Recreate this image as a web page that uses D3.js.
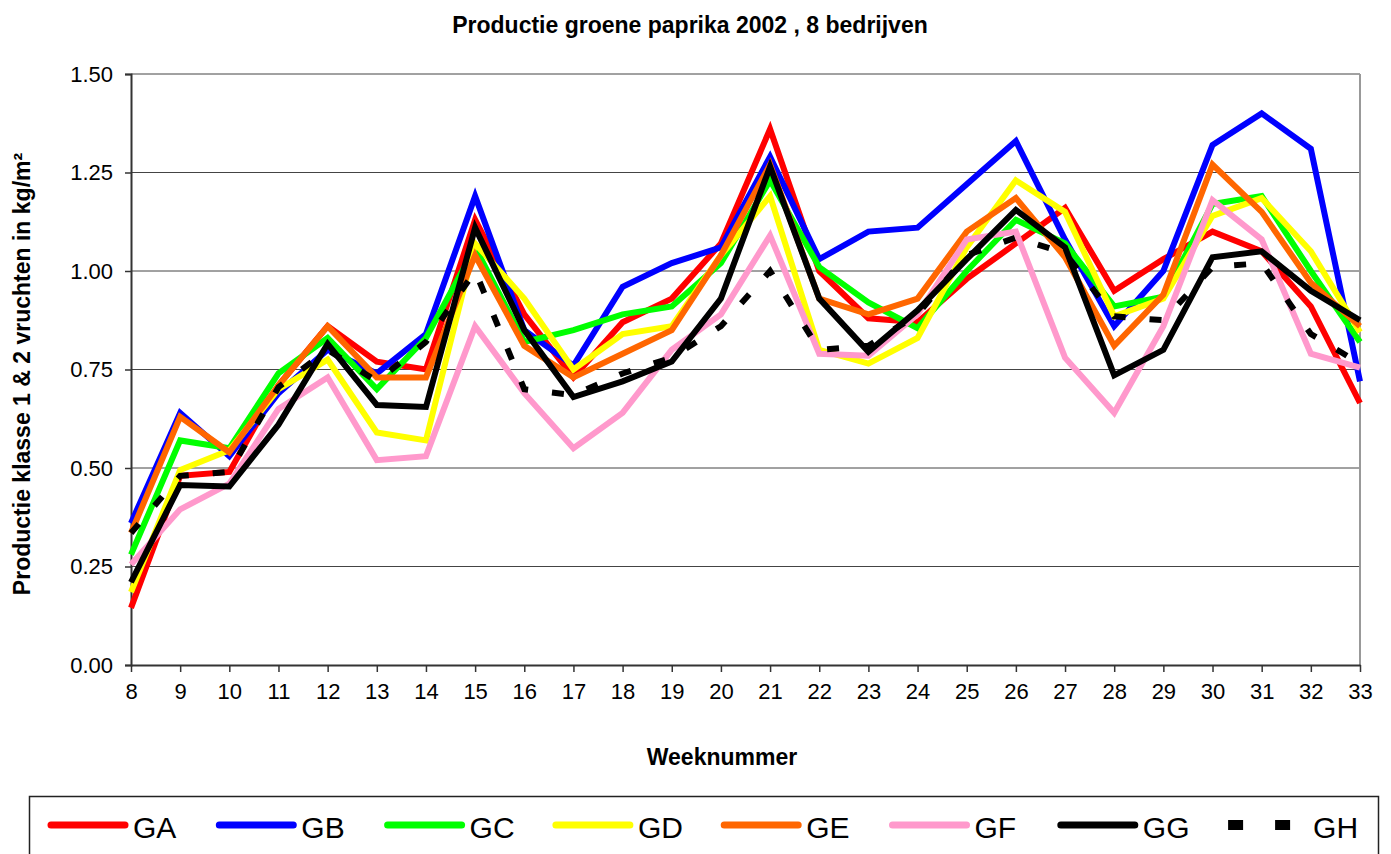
<!DOCTYPE html>
<html>
<head>
<meta charset="utf-8">
<script src="https://cdn.jsdelivr.net/npm/d3@7"></script>
<style>
  body { margin: 0; background: #fff; }
  svg { display: block; font-family: "Liberation Sans", Arial, sans-serif; }
  .tick text { font-size: 22px; fill: #000; font-family: "Liberation Sans", Arial, sans-serif; }
</style>
</head>
<body>
<svg id="chart" width="1391" height="854"></svg>
<script>
const weeks = d3.range(8, 34);
const yTicks = [0, 0.25, 0.5, 0.75, 1.0, 1.25, 1.5];

const GA = [0.145, 0.48, 0.49, 0.71, 0.86, 0.77, 0.75, 1.13, 0.89, 0.73, 0.87, 0.93, 1.07, 1.36, 1.00, 0.88, 0.87, 0.98, 1.07, 1.16, 0.95, 1.03, 1.10, 1.05, 0.91, 0.665];
const GB = [0.36, 0.64, 0.53, 0.69, 0.80, 0.74, 0.84, 1.19, 0.85, 0.76, 0.96, 1.02, 1.06, 1.29, 1.03, 1.10, 1.11, 1.22, 1.33, 1.08, 0.86, 1.00, 1.32, 1.40, 1.31, 0.72];
const GC = [0.28, 0.57, 0.55, 0.74, 0.83, 0.70, 0.83, 1.06, 0.82, 0.85, 0.89, 0.91, 1.02, 1.23, 1.01, 0.92, 0.855, 1.00, 1.13, 1.07, 0.91, 0.935, 1.17, 1.19, 1.00, 0.82];
const GD = [0.185, 0.495, 0.545, 0.70, 0.775, 0.59, 0.57, 1.07, 0.93, 0.75, 0.84, 0.86, 1.04, 1.19, 0.80, 0.765, 0.83, 1.06, 1.23, 1.15, 0.885, 0.93, 1.14, 1.185, 1.05, 0.845];
const GE = [0.335, 0.63, 0.54, 0.71, 0.86, 0.73, 0.73, 1.04, 0.81, 0.73, 0.79, 0.85, 1.04, 1.27, 0.93, 0.89, 0.93, 1.10, 1.185, 1.035, 0.81, 0.94, 1.27, 1.15, 0.97, 0.86];
const GF = [0.255, 0.395, 0.46, 0.65, 0.73, 0.52, 0.53, 0.86, 0.69, 0.55, 0.64, 0.80, 0.89, 1.09, 0.79, 0.785, 0.89, 1.08, 1.10, 0.78, 0.64, 0.86, 1.18, 1.08, 0.79, 0.755];
const GG = [0.21, 0.457, 0.453, 0.61, 0.815, 0.66, 0.655, 1.11, 0.85, 0.68, 0.72, 0.77, 0.93, 1.265, 0.93, 0.795, 0.90, 1.03, 1.155, 1.06, 0.735, 0.80, 1.035, 1.05, 0.95, 0.875];
const GH = [0.335, 0.48, 0.49, 0.705, 0.80, 0.72, 0.82, 1.00, 0.70, 0.685, 0.74, 0.78, 0.86, 1.00, 0.80, 0.81, 0.89, 1.04, 1.085, 1.045, 0.885, 0.875, 1.01, 1.02, 0.84, 0.765];

const series = [
  { name: 'GA', values: GA, color: '#ff0000' },
  { name: 'GB', values: GB, color: '#0000ff' },
  { name: 'GC', values: GC, color: '#00ff00' },
  { name: 'GD', values: GD, color: '#ffff00' },
  { name: 'GE', values: GE, color: '#ff6600' },
  { name: 'GF', values: GF, color: '#ff99cc' },
  { name: 'GG', values: GG, color: '#000000' },
  { name: 'GH', values: GH, color: '#000000', dash: '12,24' }
];

const svg = d3.select('#chart');
const margin = { top: 74, right: 31, bottom: 189, left: 131 };
const W = 1391, H = 854;
const x = d3.scaleLinear().domain([8, 33]).range([margin.left, W - margin.right]);
const y = d3.scaleLinear().domain([0, 1.5]).range([H - margin.bottom, margin.top]);

// title
svg.append('text').attr('x', 690).attr('y', 33).attr('text-anchor', 'middle')
  .attr('font-size', 23).attr('font-weight', 'bold').text('Productie groene paprika 2002 , 8 bedrijven');

// grid
svg.append('g').selectAll('line').data(yTicks.filter(d => d > 0)).join('line')
  .attr('x1', x(8)).attr('x2', x(33)).attr('y1', d => y(d)).attr('y2', d => y(d))
  .attr('stroke', '#444').attr('stroke-width', 1);
svg.append('line').attr('x1', x(33)).attr('x2', x(33)).attr('y1', y(1.5)).attr('y2', y(0))
  .attr('stroke', '#999').attr('stroke-width', 2);

// axes
svg.append('g').attr('transform', `translate(${margin.left},0)`)
  .call(d3.axisLeft(y).tickValues(yTicks).tickFormat(d3.format('.2f')).tickSize(6).tickPadding(12))
  .call(g => g.select('.domain').attr('stroke', '#333').attr('stroke-width', 2))
  .call(g => g.selectAll('.tick line').attr('stroke', '#333').attr('stroke-width', 1.5));
svg.append('g').attr('transform', `translate(0,${y(0)})`)
  .call(d3.axisBottom(x).tickValues(weeks).tickFormat(d3.format('d')).tickSize(7).tickPadding(11).tickSizeOuter(0))
  .call(g => g.select('.domain').attr('stroke', '#333').attr('stroke-width', 2))
  .call(g => g.selectAll('.tick line').attr('stroke', '#333').attr('stroke-width', 1.5));

// axis titles
svg.append('text').attr('x', 722).attr('y', 765).attr('text-anchor', 'middle')
  .attr('font-size', 23).attr('font-weight', 'bold').text('Weeknummer');
svg.append('text').attr('transform', 'translate(30,374) rotate(-90)').attr('text-anchor', 'middle')
  .attr('font-size', 23).attr('font-weight', 'bold').text('Productie klasse 1 & 2 vruchten in kg/m²');

// lines
const line = d3.line().x((d, i) => x(weeks[i])).y(d => y(d));
svg.append('g').selectAll('path').data(series).join('path')
  .attr('d', d => line(d.values)).attr('fill', 'none')
  .attr('stroke', d => d.color).attr('stroke-width', 6)
  .attr('stroke-linejoin', 'miter').attr('stroke-dasharray', d => d.dash || null);

// legend
const legend = svg.append('g');
legend.append('rect').attr('x', 29.5).attr('y', 796.5).attr('width', 1349).attr('height', 70)
  .attr('fill', '#fff').attr('stroke', '#222').attr('stroke-width', 1.5);
const item = legend.selectAll('g.item').data(series).join('g').attr('class', 'item')
  .attr('transform', (d, i) => `translate(${48 + i * 168.3},825)`);
item.filter(d => !d.dash).append('line').attr('x1', 3).attr('x2', 77).attr('y1', 0).attr('y2', 0)
  .attr('stroke', d => d.color).attr('stroke-width', 7).attr('stroke-linecap', 'round');
item.filter(d => d.dash).selectAll('rect').data([0, 1]).join('rect')
  .attr('x', d => 2 + d * 47).attr('y', -5).attr('width', 15).attr('height', 10).attr('fill', '#000');
item.append('text').attr('x', d => d.dash ? 87 : 85).attr('y', 13).attr('font-size', 30).text(d => d.name);
</script>
</body>
</html>
